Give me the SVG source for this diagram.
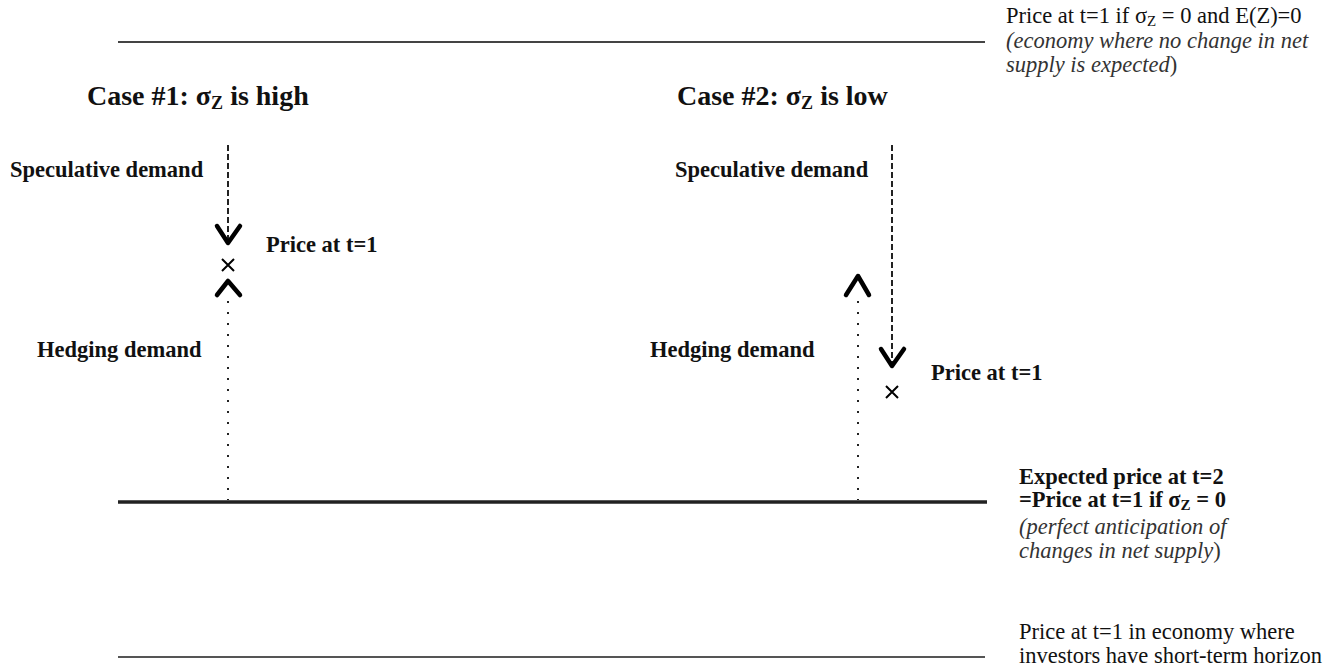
<svg xmlns="http://www.w3.org/2000/svg" width="1343" height="671" viewBox="0 0 1343 671">
<style>
text{font-family:"Liberation Serif","Times New Roman",serif;fill:#111}
.h{font-size:28px;font-weight:bold}
.b{font-size:22.5px;font-weight:bold}
.r{font-size:22.5px}
.i{font-size:22.5px;font-style:italic;fill:#333}
.dash{stroke:#222;stroke-width:2;stroke-dasharray:6,3;fill:none}
.dot{stroke:#222;stroke-width:2;stroke-dasharray:2,9;fill:none}
.chev{stroke:#000;stroke-width:4.5;fill:none;stroke-linecap:round;stroke-linejoin:round}
.x{stroke:#000;stroke-width:2;fill:none}
</style>
<rect width="1343" height="671" fill="#fff"/>
<g id="levels">
<line x1="118" y1="42" x2="985" y2="42" stroke="#444" stroke-width="2"/>
<line x1="118" y1="502" x2="987" y2="502" stroke="#222" stroke-width="3.5"/>
<line x1="118" y1="657" x2="985" y2="657" stroke="#555" stroke-width="2"/>
</g>
<g id="connectors">
<line class="dash" x1="228" y1="145" x2="228" y2="240"/>
<polyline class="chev" points="217,226 228,243 240,226"/>
<line class="dot" x1="228" y1="301" x2="228" y2="500"/>
<polyline class="chev" points="217,295 228,281 240,295"/>
<line class="dash" x1="892" y1="145" x2="892" y2="364"/>
<polyline class="chev" points="881,349 892,366 904,349"/>
<line class="dot" x1="858" y1="301" x2="858" y2="500"/>
<polyline class="chev" points="846,295 858,276 869,295"/>
</g>
<g id="marks">
<path class="x" d="M222,259 L234,271 M234,259 L222,271"/>
<path class="x" d="M886,386 L898,398 M898,386 L886,398"/>
</g>
<g id="case1">
<text class="h" x="87" y="105">Case #1: σ<tspan font-size="18" dy="4">Z</tspan><tspan dy="-4"> is high</tspan></text>
<text class="b" x="10" y="177">Speculative demand</text>
<text class="b" x="266" y="252">Price at t=1</text>
<text class="b" x="37" y="357">Hedging demand</text>
</g>
<g id="case2">
<text class="h" x="677" y="105">Case #2: σ<tspan font-size="18" dy="4">Z</tspan><tspan dy="-4"> is low</tspan></text>
<text class="b" x="675" y="177">Speculative demand</text>
<text class="b" x="650" y="357">Hedging demand</text>
<text class="b" x="931" y="380">Price at t=1</text>
</g>
<g id="label-top">
<text class="r" x="1006" y="23">Price at t=1 if σ<tspan font-size="15" dy="3">Z</tspan><tspan dy="-3"> = 0 and E(Z)=0</tspan></text>
<text class="i" x="1006" y="48">(economy where no change in net</text>
<text class="i" x="1006" y="72">supply is expected<tspan font-style="normal">)</tspan></text>
</g>
<g id="label-mid">
<text class="b" x="1019" y="484">Expected price at t=2</text>
<text class="b" x="1019" y="507">=Price at t=1 if σ<tspan font-size="15" dy="3">Z</tspan><tspan dy="-3"> = 0</tspan></text>
<text class="i" x="1019" y="534">(perfect anticipation of</text>
<text class="i" x="1019" y="558">changes in net supply<tspan font-style="normal">)</tspan></text>
</g>
<g id="label-bottom">
<text class="r" x="1019" y="639">Price at t=1 in economy where</text>
<text class="r" x="1019" y="663">investors have short-term horizon</text>
</g>
</svg>
